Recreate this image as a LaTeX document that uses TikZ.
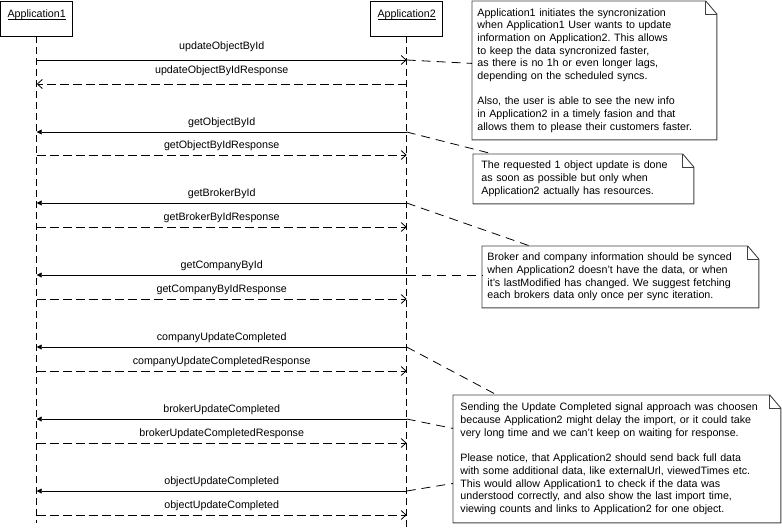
\documentclass[tikz,border=0pt]{standalone}
\usepackage{fontspec}
\setmainfont{Liberation Sans}
\usetikzlibrary{arrows.meta}
\frenchspacing

% note outline with folded corner
\newcommand\foldnote[1]{%
 \draw[notebox] (#1.north west) -- ([xshift=-11pt]#1.north east) -- ([yshift=-13pt]#1.north east)
  -- (#1.south east) -- (#1.south west) -- cycle;
 \draw[notebox] ([xshift=-11pt]#1.north east) |- ([yshift=-13pt]#1.north east);}

\begin{document}
\begin{tikzpicture}[x=1pt,y=-1pt,line width=0.8pt,
 every node/.append style={font=\fontsize{10.7pt}{12.7pt}\selectfont},
 actor/.style={draw,minimum width=72pt,minimum height=35pt,inner sep=0pt},
 life/.style={dash pattern=on 7pt off 4pt},
 call/.style={-{Straight Barb[length=5pt,width=9pt]}},
 sig/.style={-{Triangle[length=5pt,width=5pt]}},
 reply/.style={dash pattern=on 9pt off 4pt,-{Straight Barb[length=5pt,width=9pt]}},
 lbl/.style={midway,anchor=base,yshift=7pt,inner sep=0pt},
 note/.style={anchor=north west,align=left,inner ysep=0pt},
 notebox/.style={draw=black!75,line width=0.9pt},
 link/.style={dash pattern=on 9pt off 6pt}]
\useasboundingbox (0,0) rectangle (782,531);

\node[actor] (app1) at (36.7,18.5) {\underline{\smash{Application1}}};
\node[actor] (app2) at (406.7,18.5) {\underline{\smash{Application2}}};
\coordinate (e1) at (36.7,523);
\coordinate (e2) at (406.7,531);
\draw[life] (app1) -- (e1);
\draw[life] (app2) -- (e2);

\foreach \n/\y in {1/60,2/84,3/132,4/155,5/203,6/227,7/275,8/299,9/347,10/371,11/419,12/443,13/491,14/515}{
 \coordinate (a\n) at (36.7,\y);
 \coordinate (b\n) at (406.7,\y);}

\draw[call] (a1) -- node[lbl,yshift=4pt] {updateObjectById} (b1);
\draw[reply] (b2) -- node[lbl,yshift=4pt] {updateObjectByIdResponse} (a2);
\draw[sig] (b3) -- node[lbl] {getObjectById} (a3);
\draw[reply] (a4) -- node[lbl] {getObjectByIdResponse} (b4);
\draw[sig] (b5) -- node[lbl] {getBrokerById} (a5);
\draw[reply] (a6) -- node[lbl] {getBrokerByIdResponse} (b6);
\draw[sig] (b7) -- node[lbl] {getCompanyById} (a7);
\draw[reply] (a8) -- node[lbl] {getCompanyByIdResponse} (b8);
\draw[sig] (b9) -- node[lbl] {companyUpdateCompleted} (a9);
\draw[reply] (a10) -- node[lbl] {companyUpdateCompletedResponse} (b10);
\draw[sig] (b11) -- node[lbl] {brokerUpdateCompleted} (a11);
\draw[reply] (a12) -- node[lbl] {brokerUpdateCompletedResponse} (b12);
\draw[sig] (b13) -- node[lbl] {objectUpdateCompleted} (a13);
\draw[reply] (a14) -- node[lbl] {objectUpdateCompleted} (b14);

% notes
\node[note,inner xsep=5pt,text width=234pt,minimum height=138pt] (n1) at (472,1) {Application1 initiates the syncronization\\
 when Application1 User wants to update\\information on Application2. This allows\\
 to keep the data syncronized faster,\\as there is no 1h or even longer lags,\\
 depending on the scheduled syncs.\\[12.7pt]
 Also, the user is able to see the new info\\in Application2 in a timely fasion and that\\
 allows them to please their customers faster.};
\node[note,inner xsep=8pt,text width=204pt,minimum height=49pt] (n2) at (473,154) {The requested 1 object update is done\\
 as soon as possible but only when\\Application2 actually has resources.};
\node[note,inner xsep=5pt,text width=266pt,minimum height=61pt] (n3) at (482,246) {Broker and company information should be synced\\
 when Application2 doesn't have the data, or when\\it's lastModified has changed. We suggest fetching\\
 each brokers data only once per sync iteration.};
\node[note,inner xsep=7pt,text width=313pt,minimum height=127pt] (n4) at (453,395) {Sending the Update Completed signal approach was choosen\\
 because Application2 might delay the import, or it could take\\very long time and we can't keep on waiting for response.\\[12.7pt]
 Please notice, that Application2 should send back full data\\with some additional data, like externalUrl, viewedTimes etc.\\
 This would allow Application1 to check if the data was\\understood correctly, and also show the last import time,\\
 viewing counts and links to Application2 for one object.};
\foldnote{n1}
\foldnote{n2}
\foldnote{n3}
\foldnote{n4}

\draw[link] (b1) -- ([yshift=7pt]n1.west);
\draw[link] (b3) -- ([xshift=20pt]n2.north west);
\draw[link] (b5) -- ([xshift=48pt]n3.north west);
\draw[link] (b7) -- (b7 -| n3.west);
\draw[link] (b9) -- ([xshift=44pt]n4.north west);
\draw[link] (b11) -- ([yshift=30.5pt]n4.west);
\draw[link] (b13) -- ([yshift=-24.5pt]n4.west);
\end{tikzpicture}
\end{document}
